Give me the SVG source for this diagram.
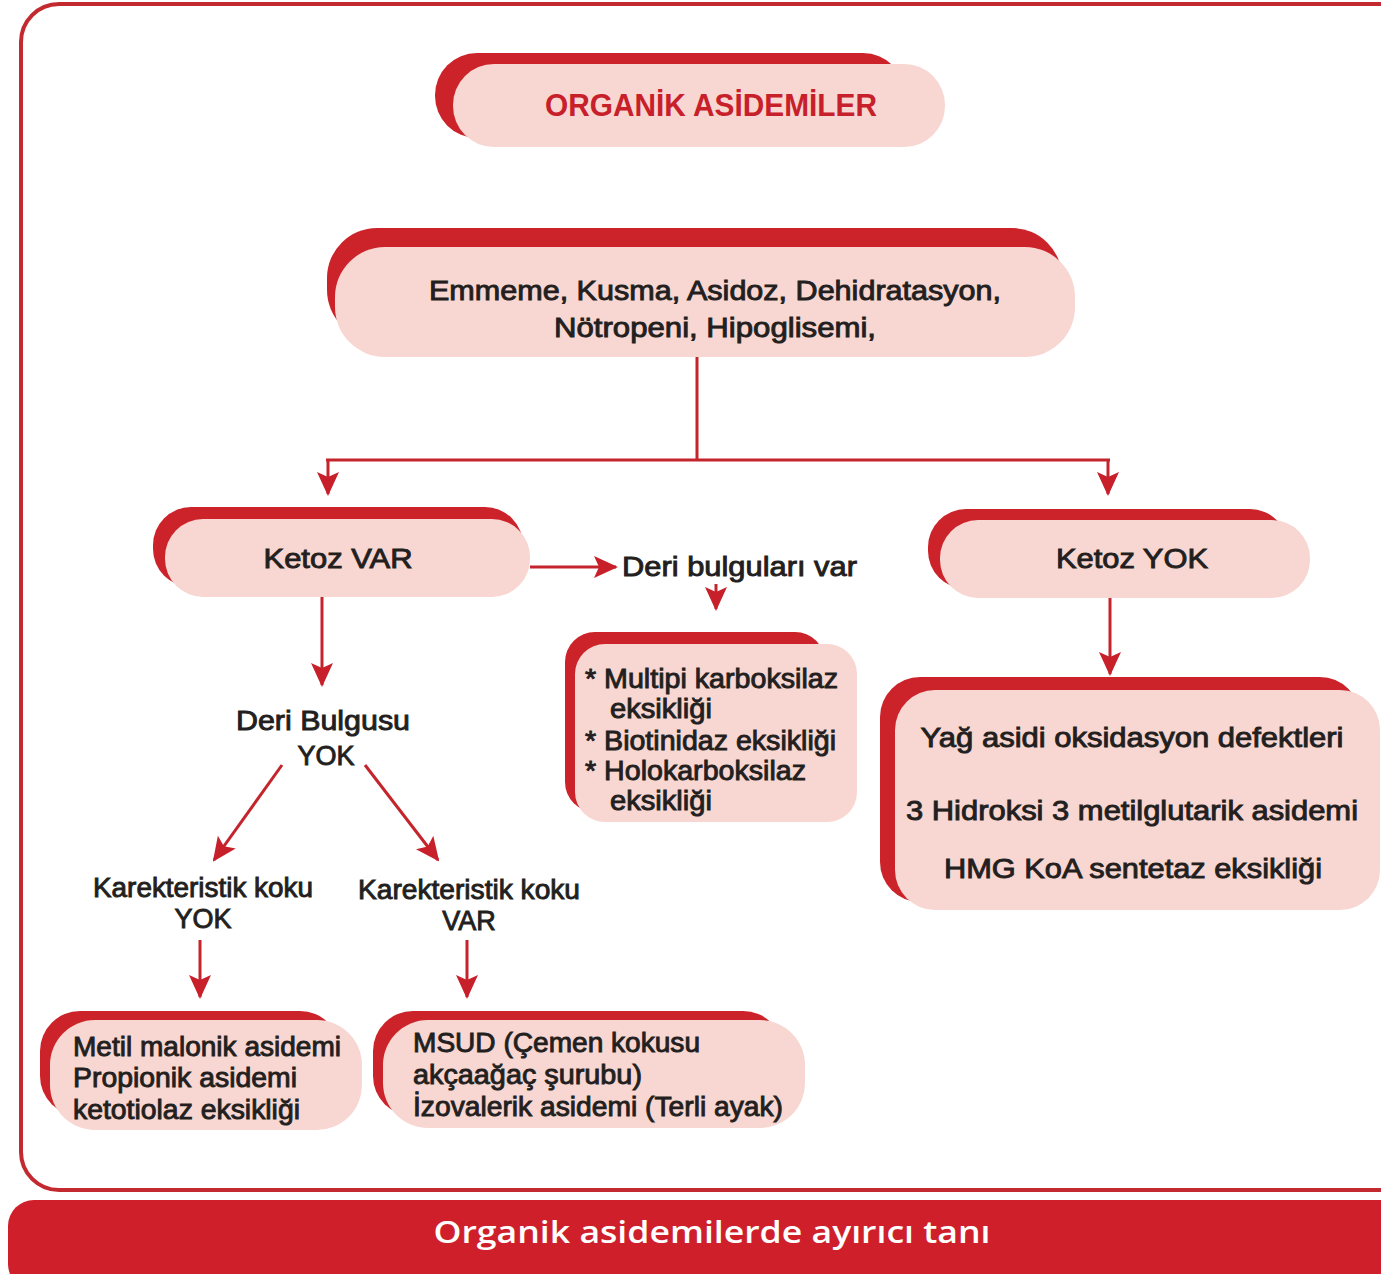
<svg xmlns="http://www.w3.org/2000/svg" width="1381" height="1274" viewBox="0 0 1381 1274">
<style>
.back{fill:#cc2229}
.front{fill:#f8d6d1}
.t{font-family:"Liberation Sans",Arial,sans-serif;font-size:27px;fill:#231f20;stroke:#231f20;stroke-width:0.9}
.c{text-anchor:middle}
.title{font-family:"Liberation Sans",Arial,sans-serif;font-weight:bold;font-size:31px;fill:#c8202a;text-anchor:middle}
.foot{font-family:"Open Sans","Noto Sans",sans-serif;font-weight:600;font-size:30px;fill:#ffffff;text-anchor:middle}
.ln{fill:none;stroke:#c4252c;stroke-width:3}
</style>
<defs>
<marker id="ah" viewBox="0 0 24 24" refX="22" refY="12" markerWidth="24" markerHeight="24" markerUnits="userSpaceOnUse" orient="auto">
<path d="M0,1 L24,12 L0,23 L5,12 z" fill="#c8202a"/>
</marker>
</defs>
<rect x="21" y="4" width="1400" height="1186" rx="38" fill="#ffffff" stroke="#c22a30" stroke-width="4"/>
<g id="footer">
<rect x="8" y="1200" width="1420" height="90" rx="26" fill="#cf1f2a"/>
<text class="foot" x="712" y="1243" textLength="557" lengthAdjust="spacingAndGlyphs">Organik asidemilerde ayırıcı tanı</text>
</g>
<g id="connectors">
<path class="ln" d="M697,357 V460"/>
<path class="ln" d="M326,460 H1110" stroke-width="4"/>
<path class="ln" d="M328,460 V494" marker-end="url(#ah)"/>
<path class="ln" d="M1108,460 V494" marker-end="url(#ah)"/>
<path class="ln" d="M530,567 H616" marker-end="url(#ah)"/>
<path class="ln" d="M716,584 V609" marker-end="url(#ah)"/>
<path class="ln" d="M322,597 V685" stroke-width="2" marker-end="url(#ah)"/>
<path class="ln" d="M282,765 L214,860" stroke-width="4" marker-end="url(#ah)"/>
<path class="ln" d="M365,765 L438,860" stroke-width="4" marker-end="url(#ah)"/>
<path class="ln" d="M200,940 V997" marker-end="url(#ah)"/>
<path class="ln" d="M467,940 V997" marker-end="url(#ah)"/>
<path class="ln" d="M1110,598 V674" stroke-width="4" marker-end="url(#ah)"/>
</g>
<g id="n-title">
<rect class="back" x="435" y="53" width="470" height="85" rx="42"/>
<rect class="front" x="453" y="64" width="492" height="83" rx="41"/>
<text class="title" x="711" y="116" textLength="332" lengthAdjust="spacingAndGlyphs">ORGANİK ASİDEMİLER</text>
</g>
<g id="n-symptoms">
<rect class="back" x="327" y="228" width="735" height="112" rx="50"/>
<rect class="front" x="335" y="247" width="740" height="110" rx="50"/>
<text class="t c" x="715" y="300" textLength="572" lengthAdjust="spacingAndGlyphs">Emmeme, Kusma, Asidoz, Dehidratasyon,</text>
<text class="t c" x="715" y="337" textLength="322" lengthAdjust="spacingAndGlyphs">Nötropeni, Hipoglisemi,</text>
</g>
<g id="n-ketozvar">
<rect class="back" x="153" y="507" width="370" height="80" rx="38"/>
<rect class="front" x="165" y="519" width="365" height="78" rx="38"/>
<text class="t c" x="338" y="568" textLength="149" lengthAdjust="spacingAndGlyphs">Ketoz VAR</text>
</g>
<g id="n-deri-var">
<text class="t" x="622" y="576" textLength="235" lengthAdjust="spacingAndGlyphs">Deri bulguları var</text>
</g>
<g id="n-skin">
<rect class="back" x="565" y="632" width="260" height="180" rx="30"/>
<rect class="front" x="575" y="644" width="282" height="178" rx="30"/>
<text class="t" x="585" y="688" textLength="253" lengthAdjust="spacingAndGlyphs">* Multipi karboksilaz</text>
<text class="t" x="610" y="718" textLength="102" lengthAdjust="spacingAndGlyphs">eksikliği</text>
<text class="t" x="585" y="750" textLength="251" lengthAdjust="spacingAndGlyphs">* Biotinidaz eksikliği</text>
<text class="t" x="585" y="780" textLength="221" lengthAdjust="spacingAndGlyphs">* Holokarboksilaz</text>
<text class="t" x="610" y="810" textLength="102" lengthAdjust="spacingAndGlyphs">eksikliği</text>
</g>
<g id="n-deri-yok">
<text class="t c" x="323" y="730" textLength="174" lengthAdjust="spacingAndGlyphs">Deri Bulgusu</text>
<text class="t c" x="326" y="765">YOK</text>
</g>
<g id="n-koku-yok">
<text class="t c" x="203" y="897" font-size="25" textLength="220" lengthAdjust="spacingAndGlyphs">Karekteristik koku</text>
<text class="t c" x="203" y="928" font-size="25">YOK</text>
</g>
<g id="n-koku-var">
<text class="t c" x="469" y="899" font-size="25" textLength="222" lengthAdjust="spacingAndGlyphs">Karekteristik koku</text>
<text class="t c" x="469" y="930" font-size="25">VAR</text>
</g>
<g id="n-ketozyok">
<rect class="back" x="928" y="509" width="360" height="80" rx="38"/>
<rect class="front" x="940" y="520" width="370" height="78" rx="38"/>
<text class="t c" x="1132" y="568" textLength="152" lengthAdjust="spacingAndGlyphs">Ketoz YOK</text>
</g>
<g id="n-fatty">
<rect class="back" x="880" y="677" width="480" height="225" rx="40"/>
<rect class="front" x="895" y="690" width="485" height="220" rx="40"/>
<text class="t c" x="1132" y="747" textLength="423" lengthAdjust="spacingAndGlyphs">Yağ asidi oksidasyon defektleri</text>
<text class="t c" x="1132" y="820" textLength="452" lengthAdjust="spacingAndGlyphs">3 Hidroksi 3 metilglutarik asidemi</text>
<text class="t c" x="1133" y="878" textLength="378" lengthAdjust="spacingAndGlyphs">HMG KoA sentetaz eksikliği</text>
</g>
<g id="n-metil">
<rect class="back" x="40" y="1011" width="300" height="105" rx="40"/>
<rect class="front" x="50" y="1020" width="312" height="110" rx="45"/>
<text class="t" x="73" y="1056" font-size="25" textLength="268" lengthAdjust="spacingAndGlyphs">Metil malonik asidemi</text>
<text class="t" x="73" y="1087" font-size="25" textLength="224" lengthAdjust="spacingAndGlyphs">Propionik asidemi</text>
<text class="t" x="73" y="1119" font-size="25" textLength="227" lengthAdjust="spacingAndGlyphs">ketotiolaz eksikliği</text>
</g>
<g id="n-msud">
<rect class="back" x="373" y="1011" width="410" height="105" rx="40"/>
<rect class="front" x="383" y="1020" width="422" height="108" rx="45"/>
<text class="t" x="413" y="1052" font-size="25" textLength="287" lengthAdjust="spacingAndGlyphs">MSUD (Çemen kokusu</text>
<text class="t" x="413" y="1084" font-size="25" textLength="229" lengthAdjust="spacingAndGlyphs">akçaağaç şurubu)</text>
<text class="t" x="413" y="1116" font-size="25" textLength="370" lengthAdjust="spacingAndGlyphs">İzovalerik asidemi (Terli ayak)</text>
</g>
</svg>
